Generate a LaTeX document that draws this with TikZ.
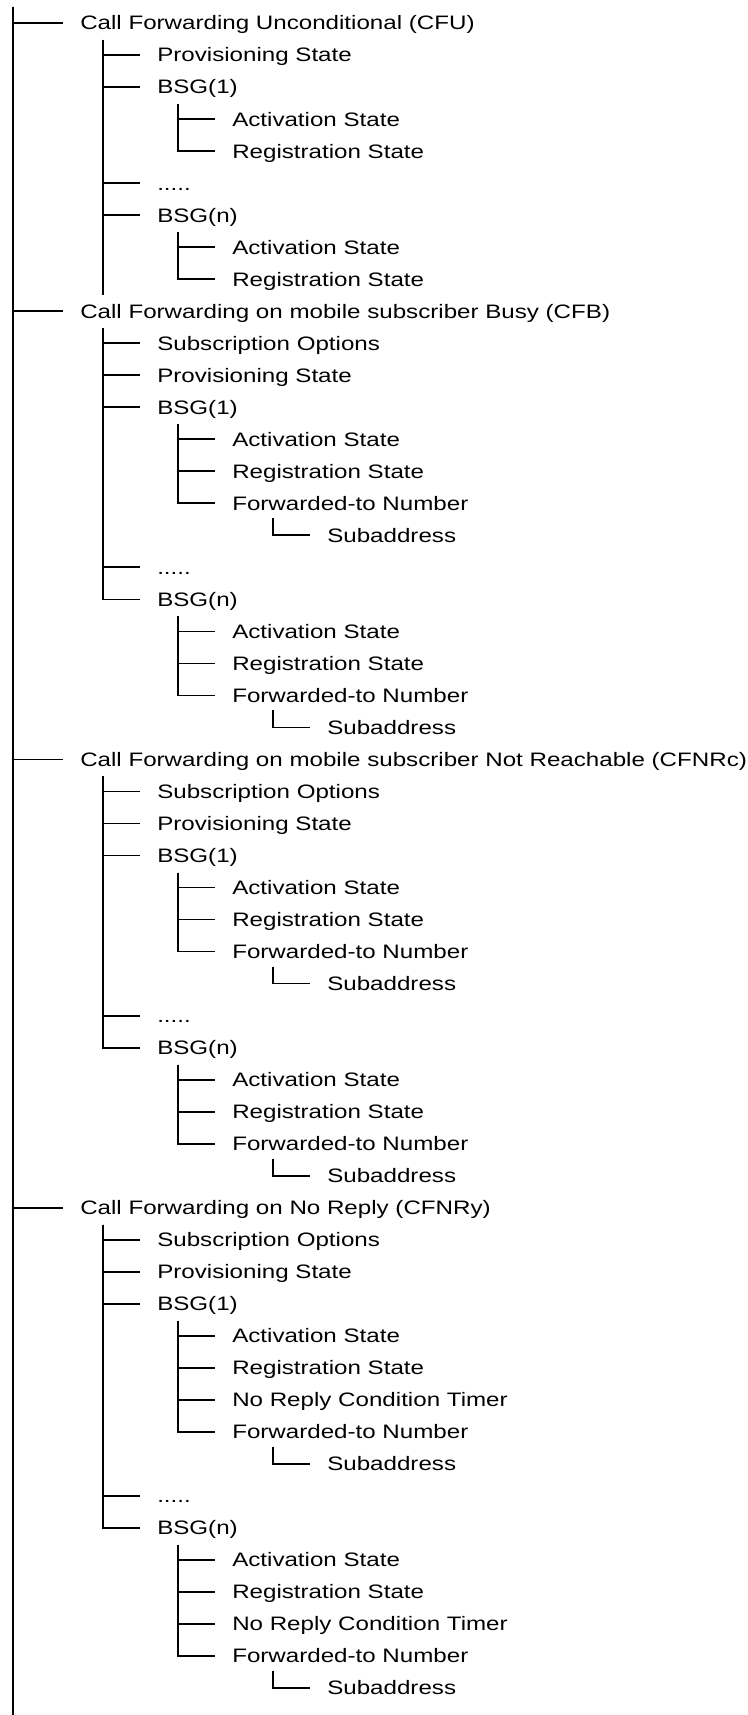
\documentclass[tikz,border=0pt]{standalone}
\usepackage{fontspec}
\setmainfont{Liberation Sans}[FakeStretch=1.24]
\usetikzlibrary{calc}

\begin{document}
\begin{tikzpicture}[x=0.75pt,y=-24.015pt,
  field/.style={anchor=west,inner xsep=12.75pt,inner ysep=0pt,
    text height=10.4pt,text depth=0pt,font=\fontsize{14.6pt}{17pt}\selectfont},
  branch/.style={draw,line width=1.3pt},
]
  \useasboundingbox (0,-0.7183) rectangle (747,52.842);

  % CFU
  \node[field] (cfu) at (63,0) {Call Forwarding Unconditional (CFU)};
  \node[field] (cfuprov) at (140,1) {Provisioning State};
  \node[field] (cfub1) at (140,2) {BSG(1)};
  \node[field] (cfub1act) at (215,3) {Activation State};
  \node[field] (cfub1reg) at (215,4) {Registration State};
  \node[field] (cfudots) at (140,5) {.....};
  \node[field] (cfubn) at (140,6) {BSG(n)};
  \node[field] (cfubnact) at (215,7) {Activation State};
  \node[field] (cfubnreg) at (215,8) {Registration State};

  % CFB
  \node[field] (cfb) at (63,9) {Call Forwarding on mobile subscriber Busy (CFB)};
  \node[field] (cfbopt) at (140,10) {Subscription Options};
  \node[field] (cfbprov) at (140,11) {Provisioning State};
  \node[field] (cfbb1) at (140,12) {BSG(1)};
  \node[field] (cfbb1act) at (215,13) {Activation State};
  \node[field] (cfbb1reg) at (215,14) {Registration State};
  \node[field] (cfbb1fwd) at (215,15) {Forwarded-to Number};
  \node[field] (cfbb1sub) at (310,16) {Subaddress};
  \node[field] (cfbdots) at (140,17) {.....};
  \node[field] (cfbbn) at (140,18) {BSG(n)};
  \node[field] (cfbbnact) at (215,19) {Activation State};
  \node[field] (cfbbnreg) at (215,20) {Registration State};
  \node[field] (cfbbnfwd) at (215,21) {Forwarded-to Number};
  \node[field] (cfbbnsub) at (310,22) {Subaddress};

  % CFNRc
  \node[field] (cfnrc) at (63,23) {Call Forwarding on mobile subscriber Not Reachable (CFNRc)};
  \node[field] (cfnrcopt) at (140,24) {Subscription Options};
  \node[field] (cfnrcprov) at (140,25) {Provisioning State};
  \node[field] (cfnrcb1) at (140,26) {BSG(1)};
  \node[field] (cfnrcb1act) at (215,27) {Activation State};
  \node[field] (cfnrcb1reg) at (215,28) {Registration State};
  \node[field] (cfnrcb1fwd) at (215,29) {Forwarded-to Number};
  \node[field] (cfnrcb1sub) at (310,30) {Subaddress};
  \node[field] (cfnrcdots) at (140,31) {.....};
  \node[field] (cfnrcbn) at (140,32) {BSG(n)};
  \node[field] (cfnrcbnact) at (215,33) {Activation State};
  \node[field] (cfnrcbnreg) at (215,34) {Registration State};
  \node[field] (cfnrcbnfwd) at (215,35) {Forwarded-to Number};
  \node[field] (cfnrcbnsub) at (310,36) {Subaddress};

  % CFNRy
  \node[field] (cfnry) at (63,37) {Call Forwarding on No Reply (CFNRy)};
  \node[field] (cfnryopt) at (140,38) {Subscription Options};
  \node[field] (cfnryprov) at (140,39) {Provisioning State};
  \node[field] (cfnryb1) at (140,40) {BSG(1)};
  \node[field] (cfnryb1act) at (215,41) {Activation State};
  \node[field] (cfnryb1reg) at (215,42) {Registration State};
  \node[field] (cfnryb1nrt) at (215,43) {No Reply Condition Timer};
  \node[field] (cfnryb1fwd) at (215,44) {Forwarded-to Number};
  \node[field] (cfnryb1sub) at (310,45) {Subaddress};
  \node[field] (cfnrydots) at (140,46) {.....};
  \node[field] (cfnrybn) at (140,47) {BSG(n)};
  \node[field] (cfnrybnact) at (215,48) {Activation State};
  \node[field] (cfnrybnreg) at (215,49) {Registration State};
  \node[field] (cfnrybnnrt) at (215,50) {No Reply Condition Timer};
  \node[field] (cfnrybnfwd) at (215,51) {Forwarded-to Number};
  \node[field] (cfnrybnsub) at (310,52) {Subaddress};

  % tree lines
  \coordinate (roottop) at (13,-0.5);
  \coordinate (rootend) at (13,52.842);
  \draw[branch] (roottop) -- (rootend);
  \foreach \s in {cfu,cfb,cfnrc,cfnry}
    \draw[branch] (roottop) |- (\s.west);

  \coordinate (cfuv) at ($(cfu.west)+(40,.53)$);
  \coordinate (cfuend) at (103,8.5);
  \draw[branch] (cfuv) -- (cfuend);
  \foreach \c in {cfuprov,cfub1,cfudots,cfubn}
    \draw[branch] (cfuv) |- (\c.west);
  \foreach \b/\kids in {cfub1/{cfub1act,cfub1reg},cfubn/{cfubnact,cfubnreg}} {
    \coordinate (\b v) at ($(\b.west)+(38,.53)$);
    \foreach \c in \kids
      \draw[branch] (\b v) |- (\c.west);
  }

  \foreach \s in {cfb,cfnrc} {
    \coordinate (\s v) at ($(\s.west)+(40,.53)$);
    \foreach \c in {opt,prov,b1,dots,bn}
      \draw[branch] (\s v) |- (\s\c.west);
    \foreach \b in {b1,bn} {
      \coordinate (\s\b v) at ($(\s\b.west)+(38,.53)$);
      \foreach \c in {act,reg,fwd}
        \draw[branch] (\s\b v) |- (\s\b\c.west);
      \coordinate (\s\b fv) at ($(\s\b fwd.west)+(58,.47)$);
      \draw[branch] (\s\b fv) |- (\s\b sub.west);
    }
  }

  \coordinate (cfnryv) at ($(cfnry.west)+(40,.53)$);
  \foreach \c in {opt,prov,b1,dots,bn}
    \draw[branch] (cfnryv) |- (cfnry\c.west);
  \foreach \b in {b1,bn} {
    \coordinate (cfnry\b v) at ($(cfnry\b.west)+(38,.53)$);
    \foreach \c in {act,reg,nrt,fwd}
      \draw[branch] (cfnry\b v) |- (cfnry\b\c.west);
    \coordinate (cfnry\b fv) at ($(cfnry\b fwd.west)+(58,.47)$);
    \draw[branch] (cfnry\b fv) |- (cfnry\b sub.west);
  }
\end{tikzpicture}
\end{document}
